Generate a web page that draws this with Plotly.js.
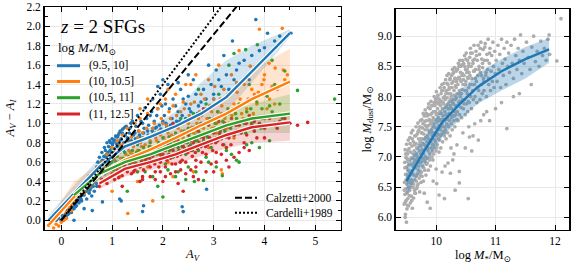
<!DOCTYPE html>
<html>
<head>
<meta charset="utf-8">
<script src="https://cdn.plot.ly/plotly-3.0.1.min.js"></script>
<style>html,body{margin:0;padding:0;background:#fff;}#chart{width:581px;height:271px;}</style>
</head>
<body>
<div id="chart"></div>
<script>
// ---------------- LEFT PANEL DATA (A_V vs A_V - A_I) ----------------
const groupLabels = ['(9.5, 10]', '(10, 10.5]', '(10.5, 11]', '(11, 12.5]'];
const groupColors = ['#1f77b4', '#ff7f0e', '#2ca02c', '#d62728'];

// scatter points [A_V, A_V - A_I]
const bluePts = [[-0.22,0.01],[-0.15,0.03],[-0.1,0.0],[-0.05,0.02],[0.0,0.0],[0.02,0.05],[0.05,0.02],[0.08,0.06],[0.1,0.03],[0.12,0.1],[0.15,0.07],[0.18,0.12],[0.2,0.08],[0.22,0.15],[0.25,0.12],[0.27,0.18],[0.3,0.15],[0.32,0.22],[0.35,0.18],[0.38,0.25],
[0.4,0.2],[0.42,0.3],[0.45,0.26],[0.48,0.35],[0.5,0.22],[0.5,0.3],[0.52,0.38],[0.55,0.28],[0.55,0.42],[0.58,0.33],[0.6,0.45],[0.6,0.25],[0.62,0.38],[0.65,0.5],[0.65,0.3],[0.68,0.42],[0.7,0.55],[0.7,0.35],[0.72,0.6],[0.75,0.45],[0.75,0.65],[0.78,0.52],[0.8,0.7],[0.8,0.4],[0.82,0.58],[0.85,0.75],[0.85,0.48],[0.88,0.65],[0.9,0.8],[0.9,0.55],[0.92,0.7],[0.95,0.6],[0.95,0.82],[0.98,0.75],[1.0,0.66],[1.0,0.84],[1.02,0.8],[1.05,0.7],[1.08,0.86],[1.1,0.76],[1.12,0.88],[1.15,0.82],[1.2,0.9],[1.22,0.72],[1.25,0.96],[1.3,0.85],[1.35,0.95],[1.4,1.02],[1.4,0.78],[1.45,0.9],[1.5,1.08],[1.55,0.85],[1.6,1.0],[1.65,1.16],[1.7,0.92],[1.75,1.08],[1.8,1.25],[1.85,0.95],[1.9,1.15],[1.95,1.3],[2.0,1.02],[2.05,1.2],[2.1,1.4],[2.15,0.98],[2.2,1.25],[2.3,1.12],[2.35,1.35],[2.45,1.05],[2.5,1.28],[2.6,1.45],[2.7,1.18],[2.8,1.35],[2.9,1.6],[3.0,1.25],[3.1,1.45],[3.2,1.7],[3.3,1.35],[3.37,1.85],[3.45,1.55],[3.6,1.65],[3.7,1.45],[3.83,2.07],[3.9,1.75],[4.06,1.93],[4.2,1.85],[4.52,1.93],
[0.61,0.1],[0.81,0.19],[1.15,0.22],[1.18,0.2],[1.6,0.09],[1.62,0.15],[2.38,0.14],[2.4,0.09],[2.86,0.32],[0.25,0.0],[0.45,0.12],
[1.9,1.38],[2.0,1.45],[2.3,1.42],[2.5,1.5],[2.45,1.2],
[0.03,0.02],[0.07,0.04],[0.11,0.07],[0.14,0.09],[0.17,0.1],[0.19,0.13],[0.23,0.14],[0.26,0.16],[0.29,0.2],[0.31,0.19],[0.33,0.24],[0.36,0.23],[0.37,0.27],[0.41,0.26],[0.43,0.28],[0.44,0.31],[0.47,0.3],[0.49,0.32],[0.51,0.34],[0.53,0.33],[0.54,0.37],[0.57,0.36],[0.59,0.39],[0.61,0.41],[0.63,0.43],[0.64,0.4],[0.66,0.46],[0.67,0.44],[0.69,0.48],[0.71,0.47],[0.73,0.52],[0.74,0.5],[0.76,0.56],[0.77,0.54],[0.79,0.6],[0.81,0.62],[0.83,0.55],[0.84,0.66],[0.86,0.61],[0.87,0.72],[0.89,0.68],[0.91,0.63],[0.93,0.76],[0.94,0.66],[0.96,0.72],[0.97,0.8],[0.99,0.69],[1.01,0.78],[1.03,0.83],[1.04,0.74],[1.06,0.82],[1.07,0.87],[1.09,0.79],[1.11,0.86],[1.13,0.78],[1.14,0.9],[1.16,0.92],[1.18,0.84],[1.21,0.94],[1.23,0.8],[1.26,0.88],[1.28,0.97],[1.32,0.82],[1.34,0.9],[1.37,1.0],[1.42,0.88],[1.47,0.97],[1.52,0.92],[1.57,1.02],[1.63,0.95],[1.68,1.05],[1.72,0.98],[1.78,1.12],[1.83,1.02],[1.88,1.08],[1.93,0.98],[1.98,1.18],[2.03,1.08],[2.08,0.96],[2.13,1.15],[2.18,1.05],[2.25,1.18],[2.33,1.02],[2.4,1.25],[2.55,1.12],[2.65,1.3],[2.75,1.22],[2.95,1.4],[3.05,1.55],[3.25,1.5],[3.5,1.62],[3.75,1.7],[4.0,1.78],[4.3,1.9],
[0.04,0.0],[0.09,0.05],[0.13,0.06],[0.16,0.12],[0.21,0.11],[0.24,0.17],[0.28,0.14],[0.34,0.21],[0.39,0.22],[0.46,0.33],[0.56,0.31],[0.63,0.35],[0.69,0.38],[0.72,0.44],[0.78,0.47],[0.83,0.5],[0.88,0.52],[0.93,0.56],[0.99,0.6],[1.03,0.64],[1.08,0.68],[1.12,0.7],[1.17,0.74],[1.24,0.76],[1.31,0.78],[1.38,0.82],[1.46,0.84],[1.54,0.88],[1.62,0.9],[1.71,0.88],[1.79,0.92],[1.87,0.96],[1.96,0.94],[2.06,1.0],[2.16,1.05],[2.27,1.02],[2.38,1.08],[2.52,1.15],[2.68,1.1],[2.85,1.25],[3.0,1.3],[3.15,1.38],[3.4,1.45]];

const orangePts = [[-0.25,-0.05],[-0.2,-0.02],[-0.1,-0.04],[0.0,-0.02],[0.05,0.0],[0.1,0.08],[0.15,0.1],[0.2,0.16],[0.25,0.2],[0.3,0.24],[0.35,0.28],[0.4,0.3],[0.45,0.36],[0.5,0.4],[0.55,0.35],[0.6,0.44],[0.65,0.5],[0.7,0.45],[0.75,0.55],[0.8,0.6],[0.85,0.52],[0.9,0.68],[0.95,0.58],[1.0,0.75],[1.0,0.55],[1.05,0.62],[1.1,0.82],[1.1,0.58],[1.15,0.7],[1.2,0.88],[1.2,0.6],[1.25,0.75],[1.3,0.95],[1.3,0.62],[1.35,0.8],[1.4,0.68],[1.45,1.0],[1.5,0.72],[1.5,0.85],[1.55,1.05],[1.6,0.7],[1.6,0.9],[1.65,0.78],[1.7,1.1],[1.75,0.82],[1.8,0.95],[1.85,0.75],[1.9,1.15],[1.95,0.88],[2.0,1.0],[2.0,0.78],[2.05,1.25],[2.1,0.9],[2.15,1.05],[2.2,0.82],[2.25,1.3],[2.3,0.95],[2.35,1.12],[2.4,0.85],[2.45,1.4],[2.5,1.0],[2.55,1.2],[2.6,0.9],[2.65,1.5],[2.7,1.05],[2.75,1.3],[2.8,0.95],[2.85,1.15],[2.9,1.45],[2.95,1.02],[3.0,1.25],[3.05,0.9],[3.1,1.6],[3.15,1.1],[3.2,1.35],[3.3,1.0],[3.35,1.5],[3.4,1.2],[3.5,1.75],[3.55,1.1],[3.6,1.4],[3.72,1.59],[3.8,1.3],[3.9,1.97],[4.0,1.5],[4.1,1.25],[4.35,1.98],[4.4,1.45],
[1.31,0.07],[1.8,0.2],[3.17,0.48],[3.15,0.52],[-0.15,-0.08],[1.0,0.3],[2.2,0.45],[2.6,0.5],[1.5,0.4],
[1.95,1.2],[2.2,1.18],[2.4,1.22],[4.21,1.57],[4.37,1.55],[4.09,1.62],[3.99,1.45],[4.15,1.38],
[0.32,0.27],[0.38,0.33],[0.42,0.35],[0.48,0.38],[0.52,0.42],[0.58,0.45],[0.62,0.48],[0.68,0.52],[0.72,0.5],[0.78,0.58],[0.82,0.56],[0.88,0.62],[0.92,0.6],[0.97,0.65],[1.02,0.68],[1.07,0.66],[1.12,0.72],[1.17,0.64],[1.22,0.78],[1.27,0.68],[1.33,0.72],[1.38,0.86],[1.42,0.76],[1.48,0.8],[1.53,0.92],[1.58,0.76],[1.63,0.85],[1.68,0.95],[1.73,0.72],[1.78,0.88],[1.83,1.0],[1.88,0.82],[1.92,0.92],[1.97,1.05],[2.02,0.85],[2.07,0.98],[2.12,1.12],[2.17,0.88],[2.22,0.98],[2.27,1.08],[2.32,0.86],[2.37,1.0],[2.42,1.15],[2.47,0.92],[2.52,1.08],[2.57,0.96],[2.62,1.22],[2.67,1.0],[2.72,1.12],[2.77,0.98],[2.82,1.25],[2.87,1.05],[2.92,1.18],[2.97,0.95],[3.02,1.38],[3.08,1.12],[3.13,1.25],[3.22,1.05],[3.28,1.3],[3.38,1.15],[3.45,1.42],[3.52,1.25],[3.65,1.15],[3.75,1.35],[3.85,1.2],[3.95,1.4],[4.05,1.15],[4.25,1.35],[4.45,1.5],[1.15,0.45],[1.7,0.55],[2.1,0.6],[2.5,0.7],[2.9,0.75],[3.4,0.85],[0.1,0.02],[0.2,0.1],[-0.05,-0.06],[0.15,0.14],[0.45,0.28],
[0.55,0.46],[0.66,0.42],[0.76,0.48],[0.86,0.56],[0.96,0.52],[1.06,0.7],[1.16,0.78],[1.26,0.6],[1.36,0.7],[1.46,0.65],[1.56,0.8],[1.66,0.68],[1.76,0.76],[1.86,0.85],[1.96,0.74],[2.06,0.82],[2.16,0.95],[2.26,0.8],[2.36,0.92],[2.46,0.82],[2.56,1.05],[2.66,0.92],[2.76,1.08],[2.86,0.9],[2.96,1.12],[3.06,1.0],[3.16,1.18],[3.26,0.95],[3.36,1.08],[3.46,1.32],[3.58,1.05],[3.68,1.25],[3.78,1.1],[3.88,1.32],[4.2,1.2],[1.7,1.25],[2.1,1.35],[2.55,1.4],[1.55,1.15]];

const greenPts = [[0.3,0.25],[0.5,0.35],[0.6,0.45],[0.7,0.5],[0.8,0.55],[0.9,0.5],[1.0,0.62],[1.05,0.55],[1.1,0.66],[1.2,0.58],[1.25,0.7],[1.3,0.62],[1.4,0.72],[1.45,0.6],[1.5,0.78],[1.55,0.66],[1.6,0.85],[1.65,0.7],[1.7,0.6],[1.75,0.8],[1.8,0.68],[1.85,0.9],[1.9,0.75],[1.95,0.62],[2.0,0.85],[2.05,0.72],[2.1,0.95],[2.15,0.8],[2.2,0.65],[2.25,0.9],[2.3,0.75],[2.35,1.05],[2.4,0.82],[2.45,0.68],[2.5,0.95],[2.55,0.78],[2.6,1.1],[2.65,0.88],[2.7,0.72],[2.75,1.0],[2.8,0.82],[2.85,1.2],[2.9,0.92],[2.95,0.75],[3.0,1.05],[3.05,0.85],[3.1,1.3],[3.15,0.95],[3.2,0.78],[3.3,1.1],[3.4,0.88],[3.5,1.2],[3.6,1.0],[3.7,1.4],[3.8,0.92],[3.86,1.81],[3.95,1.15],[4.05,1.28],[4.2,1.0],[4.3,1.2],[4.45,1.1],[4.65,1.34],[5.38,1.25],
[2.0,0.24],[2.8,0.41],[2.62,0.4],[3.17,0.46],[2.3,0.5],[1.8,0.45],[3.5,0.6],[3.9,0.75],[4.1,0.82],[3.3,1.6],[2.7,1.35],[1.3,0.3],
[3.63,1.76],[3.4,1.72],[4.15,1.65],[4.4,1.54],[4.2,1.4],
[0.4,0.32],[0.55,0.4],[0.65,0.48],[0.75,0.52],[0.85,0.5],[0.95,0.58],[1.08,0.6],[1.15,0.55],[1.22,0.64],[1.35,0.58],[1.42,0.66],[1.48,0.7],[1.58,0.62],[1.62,0.75],[1.72,0.66],[1.78,0.74],[1.88,0.68],[1.92,0.8],[1.98,0.72],[2.02,0.78],[2.08,0.66],[2.12,0.86],[2.18,0.74],[2.22,0.82],[2.28,0.7],[2.32,0.88],[2.38,0.76],[2.42,0.92],[2.48,0.8],[2.52,0.86],[2.58,0.72],[2.62,0.96],[2.68,0.82],[2.72,0.9],[2.78,0.78],[2.82,1.0],[2.88,0.86],[2.92,1.05],[2.98,0.82],[3.02,0.95],[3.08,1.12],[3.12,0.88],[3.18,1.02],[3.22,0.92],[3.28,1.15],[3.35,0.98],[3.45,1.05],[3.55,0.92],[3.65,1.12],[3.75,1.0],[3.85,1.22],[4.0,1.05],[4.15,1.12],[4.35,1.05],[1.5,0.5],[2.1,0.52],[2.5,0.55],[2.9,0.6],[3.35,0.68],[3.75,0.8],[2.45,0.42],[1.9,0.35],
[1.03,0.52],[1.13,0.6],[1.23,0.56],[1.33,0.66],[1.43,0.62],[1.53,0.72],[1.63,0.66],[1.73,0.76],[1.83,0.72],[1.93,0.7],[2.03,0.8],[2.13,0.72],[2.23,0.86],[2.33,0.8],[2.43,0.74],[2.53,0.9],[2.63,0.82],[2.73,0.96],[2.83,0.88],[2.93,0.8],[3.03,1.0],[3.13,0.92],[3.23,1.08],[3.33,0.95],[3.43,1.1],[3.53,1.02],[3.63,0.9],[3.73,1.15],[3.83,1.05],[3.93,0.95],[4.1,1.18],
[1.65,0.5],[2.25,0.45],[2.65,0.5],[3.05,0.55],[3.45,0.62],[2.05,0.58],[2.85,0.65],[3.25,0.72],[3.65,0.78]];

const redPts = [[0.75,0.35],[0.8,0.42],[0.9,0.38],[1.0,0.48],[1.05,0.42],[1.1,0.52],[1.2,0.46],[1.25,0.56],[1.3,0.5],[1.4,0.6],[1.45,0.52],[1.5,0.64],[1.55,0.55],[1.6,0.45],[1.65,0.62],[1.7,0.7],[1.75,0.55],[1.8,0.66],[1.85,0.5],[1.9,0.74],[1.95,0.6],[2.0,0.68],[2.05,0.55],[2.1,0.78],[2.15,0.64],[2.2,0.72],[2.25,0.58],[2.3,0.82],[2.35,0.68],[2.4,0.76],[2.45,0.6],[2.5,0.88],[2.55,0.72],[2.6,0.8],[2.65,0.62],[2.7,0.92],[2.75,0.76],[2.8,0.85],[2.85,0.68],[2.9,0.98],[2.95,0.8],[3.0,0.9],[3.05,0.7],[3.1,1.02],[3.15,0.84],[3.2,0.95],[3.25,0.75],[3.35,1.05],[3.4,0.88],[3.5,0.98],[3.6,0.8],[3.7,1.08],[3.8,0.92],[3.9,1.0],[4.0,0.85],[4.1,1.05],[4.25,0.95],[4.5,1.0],[4.65,0.98],[4.85,1.01],
[2.4,0.3],[1.6,0.42],[2.0,0.4],[2.6,0.45],[3.0,0.5],[3.3,0.55],[1.2,0.35],[2.2,1.0],[2.8,1.15],[3.2,1.25],[1.5,0.8],
[0.85,0.4],[0.95,0.44],[1.08,0.48],[1.15,0.5],[1.22,0.52],[1.35,0.55],[1.42,0.5],[1.48,0.58],[1.58,0.6],[1.62,0.52],[1.68,0.64],[1.72,0.58],[1.78,0.6],[1.82,0.7],[1.88,0.62],[1.92,0.55],[1.98,0.66],[2.02,0.72],[2.08,0.62],[2.12,0.68],[2.18,0.58],[2.22,0.76],[2.28,0.66],[2.32,0.72],[2.38,0.62],[2.42,0.8],[2.48,0.7],[2.52,0.76],[2.58,0.66],[2.62,0.84],[2.68,0.74],[2.72,0.8],[2.78,0.7],[2.82,0.9],[2.88,0.78],[2.92,0.85],[2.98,0.72],[3.02,0.95],[3.08,0.82],[3.12,0.9],[3.18,0.78],[3.22,1.0],[3.3,0.85],[3.45,0.92],[3.55,1.02],[3.65,0.88],[3.75,0.98],[3.85,0.85],[3.95,1.05],[4.2,0.98],[4.4,1.05],[1.75,0.45],[2.15,0.48],[2.55,0.52],[2.95,0.58],[3.4,0.65],[3.7,0.72],[2.3,0.38],[2.7,0.42],
[1.13,0.44],[1.28,0.54],[1.38,0.48],[1.52,0.56],[1.64,0.58],[1.74,0.64],[1.84,0.58],[1.94,0.68],[2.04,0.64],[2.14,0.74],[2.24,0.68],[2.34,0.6],[2.44,0.72],[2.54,0.82],[2.64,0.7],[2.74,0.86],[2.84,0.76],[2.94,0.92],[3.04,0.8],[3.14,0.96],[3.24,0.86],[3.34,0.78],[3.44,0.98],[3.54,0.9],[3.64,1.0],[3.8,1.02],[4.0,0.95],[4.3,1.02],
[1.55,0.4],[1.85,0.42],[2.05,0.45],[2.25,0.5],[2.45,0.48],[2.65,0.55],[2.85,0.5],[3.05,0.6],[3.25,0.62],[3.5,0.7],[1.95,0.5],[2.35,0.52],[2.75,0.6],[3.15,0.68],[3.6,0.75]];

// running medians and 16-84 percentile bands
const blueBinAV   = [-0.25, 0.25, 0.75, 1.25, 1.75, 2.25, 2.75, 3.25, 3.75, 4.5];
const blueMed     = [0.0, 0.28, 0.55, 0.76, 0.86, 0.97, 1.1, 1.27, 1.53, 1.93];
const blueLo      = [-0.05, 0.2, 0.48, 0.68, 0.78, 0.88, 0.98, 1.12, 1.42, 1.89];
const blueHi      = [0.05, 0.36, 0.64, 0.84, 0.96, 1.12, 1.42, 1.65, 1.8, 1.97];

const orangeBinAV = [-0.25, 0.25, 0.75, 1.25, 1.75, 2.25, 2.75, 3.25, 3.75, 4.5];
const orangeMed   = [-0.05, 0.24, 0.47, 0.62, 0.73, 0.85, 0.98, 1.1, 1.25, 1.43];
const orangeLo    = [-0.1, 0.17, 0.4, 0.55, 0.65, 0.76, 0.86, 0.95, 1.02, 1.06];
const orangeHi    = [0.0, 0.4, 0.58, 0.7, 0.82, 0.95, 1.12, 1.3, 1.55, 1.77];

const greenBinAV  = [0.25, 0.75, 1.25, 1.75, 2.25, 2.75, 3.25, 3.75, 4.5];
const greenMed    = [0.26, 0.48, 0.6, 0.68, 0.78, 0.88, 0.98, 1.05, 1.1];
const greenLo     = [0.2, 0.42, 0.53, 0.6, 0.68, 0.76, 0.85, 0.9, 0.9];
const greenHi     = [0.32, 0.55, 0.68, 0.77, 0.88, 1.0, 1.12, 1.2, 1.3];

const redBinAV    = [0.75, 1.25, 1.75, 2.25, 2.75, 3.25, 3.75, 4.5];
const redMed      = [0.38, 0.53, 0.6, 0.68, 0.78, 0.88, 0.96, 1.01];
const redLo       = [0.32, 0.45, 0.52, 0.58, 0.66, 0.74, 0.8, 0.82];
const redHi       = [0.44, 0.6, 0.7, 0.78, 0.9, 1.0, 1.08, 1.12];

// attenuation-law reference lines
const calzettiAV = [0, 3.6];
const calzettiDiff = [0, 2.3];
const cardelliAV = [0, 3.3];
const cardelliDiff = [0, 2.31];
const refLabels = ['Calzetti+2000', 'Cardelli+1989'];

// ---------------- RIGHT PANEL DATA (log M* vs log Mdust) ----------------
const dustPts = [
[9.462,6.22],[9.468,6.58],[9.471,6.91],[9.476,6.38],[9.479,7.12],[9.483,6.05],[9.486,6.71],[9.489,6.47],[9.492,6.99],[9.495,6.28],[9.498,6.83],[9.503,7.21],[9.506,6.55],[9.509,6.14],[9.512,6.92],[9.515,6.41],[9.518,7.05],[9.522,6.66],[9.525,6.31],[9.528,6.78],[9.531,7.28],[9.535,6.5],[9.538,6.19],[9.541,6.87],[9.544,7.14],[9.547,6.62],[9.549,6.36],[9.5,5.92],[9.48,6.0],
[9.552,6.95],[9.556,6.45],[9.559,7.32],[9.563,6.7],[9.567,6.24],[9.571,7.08],[9.574,6.56],[9.578,6.88],[9.582,7.4],[9.585,6.35],[9.589,6.77],[9.593,7.18],[9.596,6.6],[9.6,6.15],[9.604,6.98],[9.607,7.44],[9.611,6.5],[9.615,6.84],[9.618,7.25],[9.622,6.32],[9.626,6.7],[9.63,7.1],[9.633,6.92],[9.637,6.45],[9.641,7.35],[9.645,6.62],[9.648,7.02],
[9.652,6.4],[9.656,6.82],[9.66,7.22],[9.663,7.5],[9.667,6.6],[9.671,7.05],[9.674,6.48],[9.678,6.93],[9.682,7.38],[9.686,6.72],[9.69,7.15],[9.693,7.56],[9.697,6.55],[9.701,6.98],[9.705,7.3],[9.708,6.85],[9.712,7.45],[9.716,6.65],[9.72,7.1],[9.723,6.42],[9.727,7.25],[9.731,6.9],[9.735,7.6],[9.738,6.75],[9.742,7.18],[9.746,6.58],[9.749,7.4],
[9.752,6.92],[9.756,7.3],[9.76,7.62],[9.764,6.68],[9.768,7.12],[9.771,7.48],[9.775,6.85],[9.779,7.22],[9.783,7.72],[9.786,6.6],[9.79,7.05],[9.794,7.38],[9.798,6.95],[9.801,7.58],[9.805,7.2],[9.809,6.78],[9.813,7.45],[9.816,7.78],[9.82,7.0],[9.824,7.32],[9.828,6.7],[9.831,7.6],[9.835,7.15],[9.839,6.88],[9.843,7.5],[9.846,7.25],[9.849,7.68],
[9.852,6.9],[9.856,7.35],[9.86,7.7],[9.864,7.1],[9.868,6.78],[9.871,7.52],[9.875,7.88],[9.879,7.22],[9.883,6.98],[9.886,7.62],[9.89,7.4],[9.894,7.05],[9.898,7.8],[9.901,7.28],[9.905,6.85],[9.909,7.55],[9.913,7.92],[9.916,7.15],[9.92,7.45],[9.924,7.72],[9.928,7.0],[9.931,7.35],[9.935,7.85],[9.939,7.6],[9.943,7.2],[9.946,6.95],[9.949,7.5],
[9.952,7.3],[9.956,7.75],[9.96,7.05],[9.964,7.55],[9.968,8.0],[9.971,7.4],[9.975,7.15],[9.979,7.85],[9.983,7.62],[9.986,7.25],[9.99,7.95],[9.994,7.48],[9.998,7.1],[10.002,7.7],[10.005,8.08],[10.009,7.35],[10.013,7.58],[10.016,7.9],[10.02,7.2],[10.024,7.8],[10.028,7.45],[10.031,8.02],[10.035,7.65],[10.039,7.3],[10.043,7.88],[10.046,7.52],[10.049,7.08],
[10.052,7.6],[10.056,7.95],[10.06,7.28],[10.064,7.75],[10.068,8.15],[10.071,7.45],[10.075,7.85],[10.079,7.15],[10.083,8.05],[10.086,7.62],[10.09,7.38],[10.094,7.92],[10.098,8.2],[10.101,7.55],[10.105,7.8],[10.109,7.25],[10.113,8.1],[10.116,7.68],[10.12,7.98],[10.124,7.42],[10.128,7.88],[10.131,8.22],[10.135,7.6],[10.139,7.35],[10.143,8.0],[10.146,7.75],[10.149,7.5],
[10.152,7.95],[10.156,7.45],[10.16,8.28],[10.164,7.7],[10.168,7.3],[10.171,8.1],[10.175,7.85],[10.179,7.55],[10.183,8.35],[10.186,7.98],[10.19,7.65],[10.194,7.4],[10.198,8.2],[10.201,7.8],[10.205,8.05],[10.209,7.5],[10.213,8.38],[10.216,7.72],[10.22,7.92],[10.224,8.15],[10.228,7.6],[10.231,8.28],[10.235,7.35],[10.239,7.85],[10.243,8.05],[10.246,7.7],
[10.252,8.0],[10.256,7.55],[10.26,8.35],[10.264,7.8],[10.268,8.15],[10.271,7.45],[10.275,8.45],[10.279,7.95],[10.283,7.68],[10.286,8.25],[10.29,7.88],[10.294,8.4],[10.298,7.6],[10.301,8.1],[10.305,7.75],[10.309,8.48],[10.313,8.02],[10.316,7.5],[10.32,8.3],[10.324,7.85],[10.328,8.18],[10.331,7.7],[10.335,8.42],[10.339,7.98],[10.343,8.25],[10.346,7.62],
[10.352,8.05],[10.356,7.75],[10.36,8.45],[10.365,8.2],[10.37,7.6],[10.375,8.55],[10.38,7.9],[10.385,8.32],[10.39,8.1],[10.395,7.7],[10.4,8.6],[10.405,8.0],[10.41,8.4],[10.415,7.82],[10.42,8.25],[10.425,8.52],[10.43,7.65],[10.435,8.12],[10.44,8.38],[10.445,7.95],
[10.452,8.2],[10.458,7.8],[10.463,8.55],[10.468,8.35],[10.474,7.95],[10.479,8.68],[10.484,8.1],[10.49,7.7],[10.495,8.45],[10.5,8.25],[10.506,8.72],[10.511,7.88],[10.516,8.4],[10.522,8.05],[10.527,8.6],[10.532,7.75],[10.538,8.3],[10.543,8.5],[10.548,8.15],
[10.553,8.4],[10.559,7.9],[10.565,8.65],[10.571,8.2],[10.577,8.8],[10.583,8.0],[10.589,8.5],[10.595,7.8],[10.601,8.3],[10.607,8.72],[10.613,8.1],[10.619,8.55],[10.625,7.95],[10.631,8.42],[10.637,8.85],[10.643,8.2],[10.648,8.62],
[10.655,8.0],[10.662,8.45],[10.67,8.75],[10.677,8.25],[10.685,7.9],[10.692,8.6],[10.7,8.35],[10.707,8.85],[10.715,8.1],[10.722,8.5],[10.73,8.7],[10.737,7.95],[10.745,8.4],[10.752,8.9],[10.76,8.2],[10.767,8.62],[10.775,8.05],[10.782,8.48],[10.79,8.78],[10.797,8.3],
[10.805,8.1],[10.815,8.6],[10.825,8.88],[10.835,8.35],[10.845,8.0],[10.855,8.7],[10.865,8.45],[10.875,8.95],[10.885,8.2],[10.895,8.55],[10.905,8.8],[10.915,8.1],[10.925,8.42],[10.935,8.68],[10.945,8.25],[10.955,8.9],[10.965,8.5],[10.975,8.15],[10.985,8.75],[10.995,8.38],
[11.01,8.6],[11.025,8.25],[11.04,8.85],[11.055,8.45],[11.07,8.7],[11.085,8.15],[11.1,8.95],[11.115,8.55],[11.13,8.35],[11.145,8.8],[11.16,8.62],[11.175,8.2],[11.19,8.9],[11.205,8.5],[11.22,8.72],[11.235,8.4],
[11.26,8.85],[11.28,8.55],[11.3,8.3],[11.32,8.95],[11.34,8.68],[11.36,8.45],[11.38,8.8],[11.4,8.6],[11.42,9.02],[11.44,8.38],[11.46,8.75],[11.48,8.55],
[11.52,8.9],[11.55,8.65],[11.58,8.45],[11.61,8.82],[11.64,9.0],[11.67,8.58],[11.7,8.75],[11.73,8.5],[11.76,8.92],[11.79,8.68],[11.82,8.8],[11.85,8.6],[11.88,8.95],[11.9,9.02],[11.91,8.7],
[12.1,9.29],[12.03,8.59],[9.85,6.25],[9.9,6.15],[10.01,6.56],[10.05,6.37],[10.14,6.31],[10.24,6.73],[10.32,6.45],[10.39,6.57],[10.39,6.76],[10.54,6.31],[10.49,7.15],[10.56,7.33],[10.71,7.28],[10.2,6.9],
[10.6,7.1],[10.9,7.6],[11.19,7.47],[10.3,7.05],[10.65,7.55],[11.0,7.8],[11.4,8.05],[10.15,6.85],[10.25,7.15],[10.8,7.7],[9.95,6.6],[10.1,6.75],[10.35,7.2],[10.45,7.4],[10.55,7.5],[10.75,7.6],[10.85,7.75],[11.1,7.9],[11.3,8.0],[11.6,8.2],[9.8,6.4],[10.0,6.8],[10.28,6.95],[10.62,7.35],
[9.465,6.45],[9.474,6.82],[9.481,6.25],[9.488,7.05],[9.494,6.62],[9.501,6.4],[9.507,6.98],[9.513,6.7],[9.519,6.2],[9.526,7.1],[9.533,6.58],[9.539,6.95],[9.546,6.44],[9.553,6.75],[9.561,7.22],[9.569,6.5],[9.576,6.98],[9.584,6.62],[9.591,6.28],[9.598,7.3],[9.606,6.72],[9.613,7.05],[9.621,6.55],[9.628,6.88],[9.636,7.2],[9.643,6.4],[9.651,6.95],[9.658,7.35],[9.666,6.68],[9.673,7.15],[9.681,6.52],[9.688,7.0],[9.696,7.42],[9.703,6.78],[9.711,7.2],[9.718,6.92],[9.726,7.5],[9.733,6.7],[9.741,7.05],[9.748,7.3],
[9.755,6.75],[9.763,7.4],[9.77,6.98],[9.778,7.55],[9.785,7.1],[9.793,6.82],[9.8,7.68],[9.808,7.3],[9.815,6.92],[9.823,7.52],[9.83,7.18],[9.838,7.72],[9.845,6.98],[9.853,7.45],[9.86,7.15],[9.868,7.82],[9.875,7.3],[9.883,7.6],[9.89,6.95],[9.898,7.42],[9.905,7.7],[9.913,7.25],[9.92,7.58],[9.928,7.85],[9.935,7.1],[9.943,7.4],[9.95,7.65],[9.958,7.2],[9.965,7.9],[9.973,7.5],[9.98,7.28],[9.988,7.75],[9.995,7.4],[10.003,7.9],[10.01,7.15],[10.018,7.62],[10.025,7.98],[10.033,7.38],[10.04,7.72],[10.048,7.95],
[10.055,7.48],[10.065,7.9],[10.075,7.35],[10.085,7.72],[10.095,8.1],[10.105,7.5],[10.115,7.9],[10.125,7.62],[10.135,8.15],[10.145,7.4],[10.155,7.82],[10.165,8.05],[10.175,7.62],[10.185,8.22],[10.195,7.88],[10.205,7.52],[10.215,8.12],[10.225,7.8],[10.235,8.3],[10.245,7.95],[10.255,7.65],[10.265,8.22],[10.275,7.9],[10.285,8.38],[10.295,8.02],[10.305,7.68],[10.315,8.3],[10.325,7.95],[10.335,8.15],[10.345,8.45],[10.355,7.85],[10.365,8.3],[10.375,8.05],[10.385,8.5],[10.395,7.92],[10.405,8.28],[10.415,8.5],[10.425,8.05],[10.435,8.35],[10.445,8.6],
[10.46,8.28],[10.47,7.88],[10.48,8.5],[10.49,8.2],[10.5,8.62],[10.51,8.1],[10.52,8.45],[10.53,8.32],[10.54,7.92],[10.55,8.55],[10.57,8.35],[10.58,8.72],[10.6,8.2],[10.62,8.6],[10.64,8.42],[10.66,8.3],[10.68,8.68],[10.7,8.15],[10.72,8.45],[10.74,8.8],[10.76,8.35],[10.78,8.55],[10.8,8.25],[10.82,8.82],[10.84,8.4],[10.86,8.6],[10.88,8.3],[10.9,8.72]];

const massBin   = [9.5, 9.8, 10.1, 10.4, 10.7, 11.1, 11.5, 11.9];
const dustMed   = [6.6, 7.1, 7.57, 7.88, 8.16, 8.42, 8.62, 8.78];
const dustLo    = [6.37, 6.86, 7.33, 7.62, 7.88, 8.1, 8.3, 8.56];
const dustHi    = [6.85, 7.34, 7.8, 8.1, 8.38, 8.62, 8.82, 8.97];

// ---------------- BUILD TRACES ----------------
const FONT = "'Liberation Serif', 'Times New Roman', 'DejaVu Serif', serif";
const traces = [];
const ptsSets = [bluePts, orangePts, greenPts, redPts];
const bins = [blueBinAV, orangeBinAV, greenBinAV, redBinAV];
const meds = [blueMed, orangeMed, greenMed, redMed];
const los = [blueLo, orangeLo, greenLo, redLo];
const his = [blueHi, orangeHi, greenHi, redHi];
const bandFill = ['rgba(31,119,180,0.2)','rgba(255,127,14,0.2)','rgba(44,160,44,0.2)','rgba(214,39,40,0.2)'];

ptsSets.forEach((pts, i) => {
  traces.push({type:'scatter', mode:'markers', xaxis:'x', yaxis:'y',
    x: pts.map(p => p[0]), y: pts.map(p => p[1]),
    marker:{color:groupColors[i], size:3.6}, hoverinfo:'skip', showlegend:false});
});
bins.forEach((bx, i) => {
  traces.push({type:'scatter', mode:'lines', xaxis:'x', yaxis:'y',
    x: bx.concat(bx.slice().reverse()), y: his[i].concat(los[i].slice().reverse()),
    fill:'toself', fillcolor:bandFill[i], line:{width:0}, hoverinfo:'skip', showlegend:false});
});
bins.forEach((bx, i) => {
  traces.push({type:'scatter', mode:'lines', xaxis:'x', yaxis:'y', x: bx, y: meds[i],
    line:{color:'white', width:4.6}, hoverinfo:'skip', showlegend:false});
  traces.push({type:'scatter', mode:'lines', xaxis:'x', yaxis:'y', x: bx, y: meds[i],
    line:{color:groupColors[i], width:2.4}, name:groupLabels[i], showlegend:false});
});
traces.push({type:'scatter', mode:'lines', xaxis:'x', yaxis:'y', x: calzettiAV, y: calzettiDiff,
  line:{color:'black', width:2, dash:'7px,3px'}, name:refLabels[0], showlegend:false});
traces.push({type:'scatter', mode:'lines', xaxis:'x', yaxis:'y', x: cardelliAV, y: cardelliDiff,
  line:{color:'black', width:2, dash:'2px,2px'}, name:refLabels[1], showlegend:false});

// right panel
traces.push({type:'scatter', mode:'markers', xaxis:'x2', yaxis:'y2',
  x: dustPts.map(p => p[0]), y: dustPts.map(p => p[1]),
  marker:{color:'#adadad', size:3.7}, hoverinfo:'skip', showlegend:false});
traces.push({type:'scatter', mode:'lines', xaxis:'x2', yaxis:'y2',
  x: massBin.concat(massBin.slice().reverse()), y: dustHi.concat(dustLo.slice().reverse()),
  fill:'toself', fillcolor:'rgba(31,119,180,0.3)', line:{width:0}, hoverinfo:'skip', showlegend:false});
traces.push({type:'scatter', mode:'lines', xaxis:'x2', yaxis:'y2', x: massBin, y: dustMed,
  line:{color:'#1f77b4', width:2.4}, showlegend:false});

// ---------------- LAYOUT ----------------
const W = 581, H = 271;
const px = v => v / W;          // paper x from pixel
const py = v => 1 - v / H;      // paper y from pixel

function axisBase(extra) {
  return Object.assign({
    ticks:'inside', ticklen:5, tickwidth:1, tickcolor:'black',
    mirror:'allticks', showline:true, linewidth:1.4, linecolor:'black',
    showgrid:true, gridcolor:'#e9e9e9', gridwidth:1, zeroline:false,
    automargin:false, tickfont:{family:FONT, size:11.5, color:'black'}
  }, extra);
}

const shapes = [];
const annotations = [];
const legRows = [65.7, 81.5, 97.7, 114];
groupColors.forEach((c, i) => {
  shapes.push({type:'line', xref:'paper', yref:'paper', x0:px(57), x1:px(80), y0:py(legRows[i]), y1:py(legRows[i]),
    line:{color:c, width:3}});
  annotations.push({xref:'paper', yref:'paper', x:px(87), y:py(legRows[i]), text:groupLabels[i],
    showarrow:false, xanchor:'left', yanchor:'middle', font:{family:FONT, size:11.5, color:'black'}});
});
annotations.push({xref:'paper', yref:'paper', x:px(58), y:py(26.5), text:'<i>z</i> = 2 SFGs',
  showarrow:false, xanchor:'left', yanchor:'middle', font:{family:FONT, size:19, color:'black'}});
annotations.push({xref:'paper', yref:'paper', x:px(56), y:py(48.5), text:'log <i>M</i><sub>*</sub>/M<sub>⊙</sub>',
  showarrow:false, xanchor:'left', yanchor:'middle', font:{family:FONT, size:13, color:'black'}});
const refRows = [197.7, 212.7];
const refDash = ['7px,3px', '2px,2px'];
refRows.forEach((r, i) => {
  shapes.push({type:'line', xref:'paper', yref:'paper', x0:px(235), x1:px(257), y0:py(r), y1:py(r),
    line:{color:'black', width:2, dash:refDash[i]}});
  annotations.push({xref:'paper', yref:'paper', x:px(264), y:py(r), text:refLabels[i],
    showarrow:false, xanchor:'left', yanchor:'middle', font:{family:FONT, size:11.5, color:'black'}});
});
annotations.push({xref:'paper', yref:'paper', x:px(192.6), y:py(255), text:'<i>A</i><sub><i>V</i></sub>',
  showarrow:false, xanchor:'center', yanchor:'middle', font:{family:FONT, size:12.5, color:'black'}});
annotations.push({xref:'paper', yref:'paper', x:px(11), y:py(118.5), text:'<i>A</i><sub><i>V</i></sub> − <i>A</i><sub><i>I</i></sub>',
  showarrow:false, textangle:-90, xanchor:'center', yanchor:'middle', font:{family:FONT, size:12.5, color:'black'}});
annotations.push({xref:'paper', yref:'paper', x:px(482.5), y:py(256), text:'log <i>M</i><sub>*</sub>/M<sub>⊙</sub>',
  showarrow:false, xanchor:'center', yanchor:'middle', font:{family:FONT, size:12.5, color:'black'}});
annotations.push({xref:'paper', yref:'paper', x:px(367), y:py(119.5), text:'log <i>M</i><sub>dust</sub>/M<sub>⊙</sub>',
  showarrow:false, textangle:-90, xanchor:'center', yanchor:'middle', font:{family:FONT, size:12.5, color:'black'}});

const layout = {
  width:W, height:H, margin:{l:0, r:0, t:0, b:0, pad:0},
  paper_bgcolor:'white', plot_bgcolor:'white', showlegend:false,
  font:{family:FONT, size:11.5, color:'black'},
  xaxis: axisBase({domain:[px(44.5), px(340.7)], range:[-0.33, 5.5], tick0:0, dtick:1, anchor:'y',
    minor:{dtick:0.5, ticks:'inside', ticklen:3, tickcolor:'black', showgrid:false}}),
  yaxis: axisBase({domain:[py(230), py(7)], range:[-0.1, 2.2], tick0:0, dtick:0.2, tickformat:'.1f', anchor:'x',
    minor:{dtick:0.1, ticks:'inside', ticklen:3, tickcolor:'black', showgrid:false}}),
  xaxis2: axisBase({domain:[px(395.7), px(569.3)], range:[9.32, 12.24], tick0:0, dtick:1, anchor:'y2'}),
  yaxis2: axisBase({domain:[py(230), py(9)], range:[5.79, 9.45], tick0:0, dtick:0.5, tickformat:'.1f', anchor:'x2'}),
  shapes: shapes, annotations: annotations
};

Plotly.newPlot('chart', traces, layout, {staticPlot:true, displayModeBar:false});
</script>
</body>
</html>
